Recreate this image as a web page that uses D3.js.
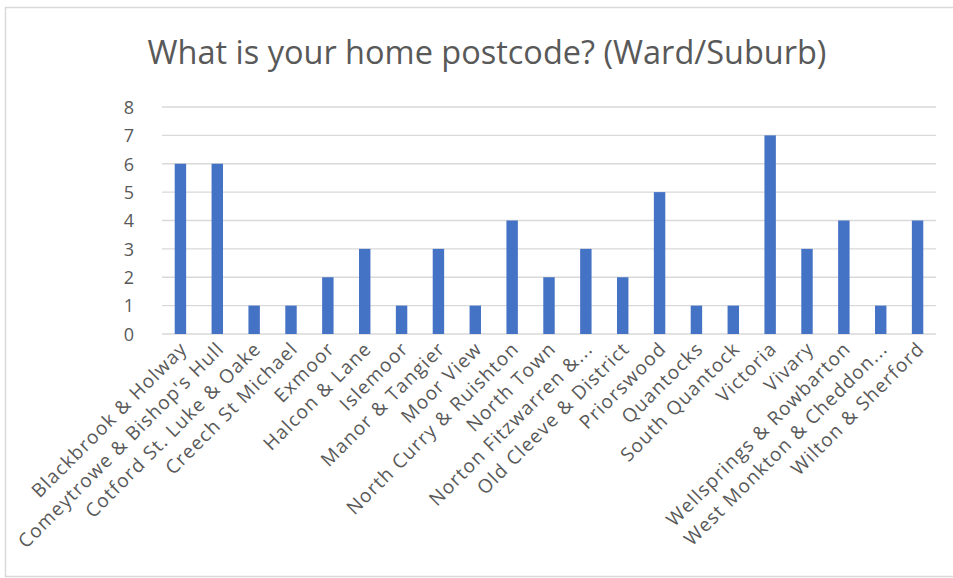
<!DOCTYPE html>
<html><head><meta charset="utf-8">
<script src="https://cdn.jsdelivr.net/npm/d3@7"></script>
<style>html,body{margin:0;padding:0;background:#fff;}svg{display:block;}</style>
</head><body>
<svg id="chart" width="953" height="578"></svg>
<script>
const categories = ["Blackbrook & Holway","Comeytrowe & Bishop's Hull","Cotford St. Luke & Oake","Creech St Michael","Exmoor","Halcon & Lane","Islemoor","Manor & Tangier","Moor View","North Curry & Ruishton","North Town","Norton Fitzwarren &...","Old Cleeve & District","Priorswood","Quantocks","South Quantock","Victoria","Vivary","Wellsprings & Rowbarton","West Monkton & Cheddon...","Wilton & Sherford"];
const values = [6,6,1,1,2,3,1,3,1,4,2,3,2,5,1,1,7,3,4,1,4];
const yTicks = [0,1,2,3,4,5,6,7,8];
const title = "What is your home postcode? (Ward/Suburb)";

const svg = d3.select("#chart");
const font = "'Open Sans', 'Segoe UI', sans-serif";
const grey = "#595959";

// frame
svg.append("rect").attr("x",5.5).attr("y",7.5).attr("width",960).attr("height",569)
  .attr("fill","#fff").attr("stroke","#d9d9d9").attr("stroke-width",1.5);

const m = {left:162, right:936, top:107, bottom:334};
const x = d3.scaleBand().domain(categories).range([m.left,m.right]).paddingInner(0.69).paddingOuter(0.345);
const y = d3.scaleLinear().domain([0,8]).range([m.bottom,m.top]);

// gridlines
svg.append("g").selectAll("line").data(yTicks).join("line")
  .attr("x1",m.left).attr("x2",m.right)
  .attr("y1",d=>y(d)).attr("y2",d=>y(d))
  .attr("stroke","#d9d9d9").attr("stroke-width",1.3);

// y axis labels
const yAxis = svg.append("g").attr("transform",`translate(${m.left-28},0)`)
  .call(d3.axisLeft(y).tickValues(yTicks).tickSize(0).tickPadding(0));
yAxis.select(".domain").remove();
yAxis.selectAll("text").attr("font-family",font).attr("font-size",18).attr("fill",grey).attr("dy","0.35em");

// bars
svg.append("g").selectAll("rect").data(values).join("rect")
  .attr("x",(d,i)=>x(categories[i]))
  .attr("width",x.bandwidth())
  .attr("y",d=>y(d))
  .attr("height",d=>y(0)-y(d))
  .attr("fill","#4472c4");

// x axis labels
const xAxis = svg.append("g").attr("transform",`translate(0,${m.bottom})`)
  .call(d3.axisBottom(x).tickSize(0).tickPadding(0));
xAxis.select(".domain").remove();
xAxis.selectAll(".tick text")
  .attr("font-family",font).attr("font-size",19).attr("letter-spacing",1.2).attr("fill",grey)
  .attr("text-anchor","end").attr("dy",0).attr("y",0)
  .attr("transform","translate(8,16) rotate(-45)");

// title
const t = svg.append("text").attr("x",487).attr("y",64).attr("text-anchor","middle")
  .attr("font-family",font).attr("font-size",27).attr("fill",grey).text(title);
const w = t.node().getComputedTextLength();
t.attr("font-size", 27*679/w);
</script>
</body></html>
